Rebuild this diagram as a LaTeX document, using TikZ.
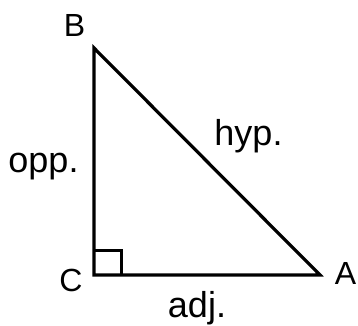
\documentclass[tikz,border=0pt]{standalone}
\usepackage{fontspec}
\setmainfont{Liberation Sans}
\begin{document}
\begin{tikzpicture}[x=1pt,y=-1pt,
  vlabel/.style={inner sep=0pt,anchor=base,font=\fontsize{32}{36}\selectfont},
  elabel/.style={inner sep=0pt,anchor=base,font=\fontsize{36}{40}\selectfont},
  edge/.style={line width=3.2pt,line join=miter,miter limit=10}]
\useasboundingbox (0,0) rectangle (358,325);
\coordinate (B) at (94,48);
\coordinate (C) at (94,275);
\coordinate (A) at (320,275);
\coordinate (S1) at (94,250);
\coordinate (S2) at (121.5,250);
\coordinate (S3) at (121.5,275);
\draw[edge] (B) -- (C) -- (A) -- cycle;
\draw[line width=3pt] (S1) -- (S2) -- (S3);
\node[vlabel] (lB) at (74.5,36) {B};
\node[vlabel] (lC) at (71,291.5) {C};
\node[vlabel] (lA) at (345.5,284) {A};
\node[elabel] (opp) at (43.5,172) {opp.};
\node[elabel] (hyp) at (248.5,145) {hyp.};
\node[elabel] (adj) at (197,317) {adj.};
\end{tikzpicture}
\end{document}
